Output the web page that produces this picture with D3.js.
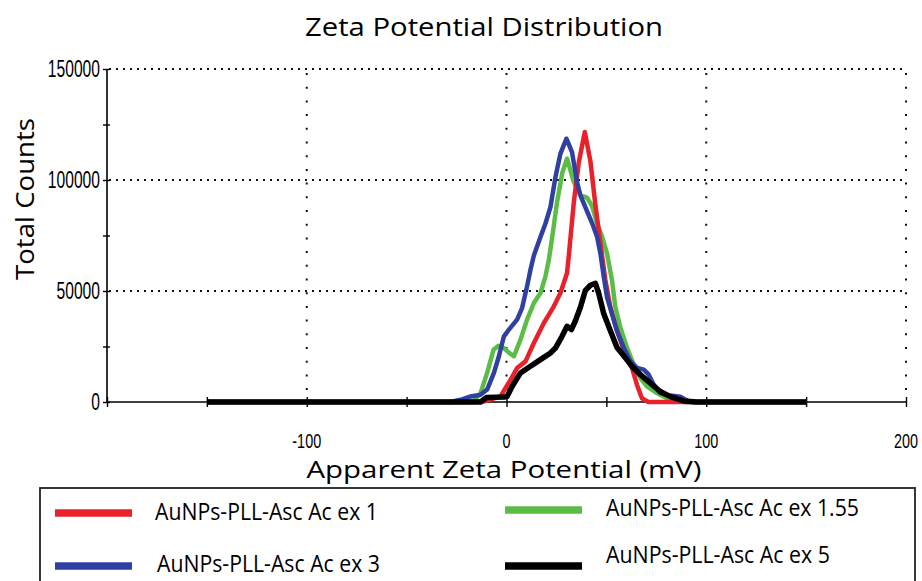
<!DOCTYPE html>
<html>
<head>
<meta charset="utf-8">
<script src="https://cdn.jsdelivr.net/npm/d3@7"></script>
<style>
  html, body { margin: 0; padding: 0; background: #fff; }
  svg { display: block; }
</style>
</head>
<body>
<svg id="chart" width="922" height="581"></svg>
<script>
// Axis ticks
const xTicks = [-100, 0, 100, 200];
const xMinorTicks = [-150, -50, 50, 150];
const yTicks = [0, 50000, 100000, 150000];
const yMinorTicks = [25000, 75000, 125000];

// Zeta potential distributions: [apparent zeta potential (mV), total counts]
const exOne = [
  [-150, 0], [-16, 0], [-11, 300], [-3, 2500], [0.3, 7500], [2, 10000], [5.3, 15300],
  [9.5, 18300], [13.7, 26600], [18.7, 35600], [23.7, 43100], [27, 49100], [30.3, 58100],
  [31.2, 66000], [33.7, 90000], [36.2, 108000], [39.2, 121600], [42, 108500], [44.5, 88800],
  [47, 71600], [49.5, 54900], [52, 42700], [55.3, 32100], [59.5, 21400], [62.8, 15400],
  [65.3, 7800], [67.8, 1700], [71, 0], [150, 0]
];
const exOnePointFiveFive = [
  [-150, 0], [-20, 0], [-16.3, 500], [-13, 4000], [-9.7, 13100], [-6.5, 23500], [-4, 25300],
  [-1.3, 24300], [1.5, 22000], [3.7, 20600], [7, 28100], [10.3, 37100], [13.7, 44600],
  [17, 49100], [19.5, 56600], [21.2, 64100], [23, 75000], [25.3, 90000], [28, 103500],
  [30.3, 109600], [33.7, 99100], [37, 93100], [40.3, 92100], [42.8, 88300], [45.3, 80700],
  [47.8, 74600], [50.3, 67000], [52.8, 54900], [54.5, 42700], [57, 33600], [60.3, 24500],
  [63.7, 16900], [67, 10800], [70.3, 7000], [75.3, 4000], [82, 900], [90.3, 0], [150, 0]
];
const exThree = [
  [-150, 0], [-28, 0], [-23, 1000], [-18, 2500], [-13, 3300], [-9.7, 5600], [-6.3, 13100],
  [-3.8, 20600], [-1.3, 29600], [1.2, 32600], [5.3, 37100], [7.8, 42300], [10.3, 52100],
  [12, 59600], [13.7, 66000], [17, 74300], [19.5, 80400], [22, 87800], [24.5, 101300],
  [27, 111900], [30, 118600], [32.8, 112600], [35.3, 99100], [37, 93100], [40.3, 86000],
  [42.8, 80700], [45.3, 74600], [47, 67000], [48.7, 56400], [50.3, 47300], [52.8, 39700],
  [55.3, 32100], [58.7, 24500], [62, 18400], [65.3, 15400], [68.7, 14600], [71.2, 12300],
  [73.7, 7800], [77, 4000], [82, 2900], [87, 2400], [91.2, 200], [93.7, 0], [150, 0]
];
const exFive = [
  [-150, 0], [-13, 0], [-10, 2000], [-1, 2200], [0.3, 2500], [2.8, 7000], [7, 13100],
  [12, 16100], [17, 19100], [22, 22100], [24.5, 24300], [27.8, 29600], [30.3, 34100],
  [32.5, 32600], [34.5, 36600], [37, 42700], [39.5, 50300], [42, 52600], [44.5, 53400],
  [46.2, 48800], [48.7, 39700], [52, 32100], [55.3, 24500], [59.5, 19900], [62.8, 16100],
  [67, 12300], [72, 8500], [77, 4700], [82, 2400], [88.7, 500], [95.3, 0], [150, 0]
];

const seriesNames = [
  "AuNPs-PLL-Asc Ac ex 1",
  "AuNPs-PLL-Asc Ac ex 1.55",
  "AuNPs-PLL-Asc Ac ex 3",
  "AuNPs-PLL-Asc Ac ex 5"
];
const seriesData = [exOne, exOnePointFiveFive, exThree, exFive];

// Styles
const seriesColors = ["#e8212b", "#5cbd46", "#2f40a0", "#000000"];
const seriesWidths = [4.5, 4.5, 4.5, 5.5];
const drawOrder = [1, 0, 2, 3];
const sans = "'Open Sans', 'DejaVu Sans', sans-serif";
const tickFont = "'Liberation Sans', Arial, sans-serif";

const svg = d3.select("#chart");
svg.append("rect").attr("width", 922).attr("height", 581).attr("fill", "#fff");

const x = d3.scaleLinear().domain([-200, 200]).range([107, 906]);
const y = d3.scaleLinear().domain([0, 150000]).range([402, 69]);

// Dotted grid
const grid = svg.append("g").attr("stroke", "#111").attr("stroke-width", 2).attr("fill", "none");
grid.selectAll("line.h").data(yTicks.filter(d => d > 0)).join("line")
  .attr("class", "h")
  .attr("x1", x(-200) + 2).attr("x2", x(200))
  .attr("y1", d => y(d)).attr("y2", d => y(d))
  .attr("stroke-dasharray", "2,5");
grid.selectAll("line.v").data(xTicks).join("line")
  .attr("class", "v")
  .attr("x1", d => x(d)).attr("x2", d => x(d))
  .attr("y1", y(150000) + 4).attr("y2", y(0))
  .attr("stroke-dasharray", "2,11.7");

// Axes
const xAxis = d3.axisBottom(x).tickValues(xTicks.concat(xMinorTicks, [-200])).tickSize(5).tickFormat("");
const yAxis = d3.axisLeft(y).tickValues(yTicks.concat(yMinorTicks)).tickSize(4).tickFormat("");

const gx = svg.append("g").attr("transform", `translate(0,${y(0)})`).call(xAxis);
gx.select(".domain").attr("d", `M${x(-200)},0H${x(200)}`).attr("stroke-width", 1.6);
gx.selectAll(".tick line").attr("y1", -5).attr("stroke-width", 1.4);

const gy = svg.append("g").attr("transform", `translate(${x(-200)},0)`).call(yAxis);
gy.select(".domain").attr("d", `M0,${y(150000)}V${y(0)}`).attr("stroke-width", 1.6);
gy.selectAll(".tick line").attr("x2", 3).attr("x1", -4).attr("stroke-width", 1.4);

// Tick labels (condensed)
svg.append("g").selectAll("text").data(xTicks).join("text")
  .attr("transform", d => `translate(${x(d)},${y(0) + 45.5}) scale(0.74,1)`)
  .attr("text-anchor", "middle")
  .attr("font-family", tickFont).attr("font-size", 19.5).attr("fill", "#000")
  .text(d => d);
svg.append("g").selectAll("text").data(yTicks).join("text")
  .attr("transform", d => `translate(${x(-200) - 7},${y(d) + 8}) scale(0.68,1)`)
  .attr("text-anchor", "end")
  .attr("font-family", tickFont).attr("font-size", 23).attr("fill", "#000")
  .text(d => d);

// Curves
const line = d3.line().x(d => x(d[0])).y(d => y(d[1]));
svg.append("g").selectAll("path").data(drawOrder).join("path")
  .attr("d", i => line(seriesData[i]))
  .attr("fill", "none")
  .attr("stroke", i => seriesColors[i])
  .attr("stroke-width", i => seriesWidths[i])
  .attr("stroke-linejoin", "round")
  .attr("stroke-linecap", "butt");

// Titles
svg.append("text").attr("x", 484).attr("y", 36).attr("text-anchor", "middle")
  .attr("font-family", sans).attr("font-size", 26).attr("fill", "#000")
  .attr("textLength", 358).attr("lengthAdjust", "spacingAndGlyphs")
  .text("Zeta Potential Distribution");
svg.append("text").attr("transform", "translate(34,199) rotate(-90)").attr("text-anchor", "middle")
  .attr("font-family", sans).attr("font-size", 25).attr("fill", "#000")
  .attr("textLength", 162).attr("lengthAdjust", "spacingAndGlyphs")
  .text("Total Counts");
svg.append("text").attr("x", 504).attr("y", 478).attr("text-anchor", "middle")
  .attr("font-family", sans).attr("font-size", 24).attr("fill", "#000")
  .attr("textLength", 395).attr("lengthAdjust", "spacingAndGlyphs")
  .text("Apparent Zeta Potential (mV)");

// Legend
const legend = svg.append("g");
legend.append("rect").attr("x", 40).attr("y", 488).attr("width", 875).attr("height", 110)
  .attr("fill", "#fff").attr("stroke", "#222").attr("stroke-width", 1.8);
const legendItems = [
  { i: 0, sx: 55, sy: 513, tx: 155, ty: 520, w: 223 },
  { i: 2, sx: 55, sy: 566, tx: 157, ty: 572, w: 223 },
  { i: 1, sx: 505, sy: 510, tx: 606, ty: 516, w: 253 },
  { i: 3, sx: 505, sy: 566, tx: 606, ty: 563, w: 224 }
];
legend.selectAll("line").data(legendItems).join("line")
  .attr("x1", d => d.sx).attr("x2", d => d.sx + 77)
  .attr("y1", d => d.sy).attr("y2", d => d.sy)
  .attr("stroke", d => seriesColors[d.i]).attr("stroke-width", 7.5);
legend.selectAll("text").data(legendItems).join("text")
  .attr("x", d => d.tx).attr("y", d => d.ty)
  .attr("font-family", sans).attr("font-size", 23).attr("fill", "#000")
  .attr("textLength", d => d.w).attr("lengthAdjust", "spacingAndGlyphs")
  .text(d => seriesNames[d.i]);
</script>
</body>
</html>
